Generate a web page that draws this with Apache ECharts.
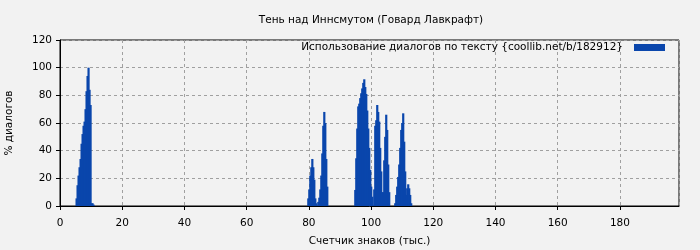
<!DOCTYPE html>
<html>
<head>
<meta charset="utf-8">
<script src="https://cdn.jsdelivr.net/npm/echarts@6/dist/echarts.min.js"></script>
<style>
html,body{margin:0;padding:0;background:#f2f2f2;}
#chart{width:700px;height:250px;}
</style>
</head>
<body>
<div id="chart"></div>
<script>
const titleText = 'Тень над Иннсмутом (Говард Лавкрафт)';
const seriesName = 'Использование диалогов по тексту {coollib.net/b/182912}';
const xAxisName = 'Счетчик знаков (тыс.)';
const yAxisName = '% диалогов';

// counter position, thousands of characters
const counterK = [
  5.33, 5.65, 5.97, 6.29, 6.62, 6.94, 7.26, 7.58, 7.90, 8.22, 8.54, 8.86, 9.18, 9.50, 9.83, 10.15, 10.47, 10.79,
  79.83, 80.15, 80.47, 80.80, 81.12, 81.44, 81.76, 82.08, 82.40,
  83.04, 83.37, 83.69, 84.01, 84.33, 84.65, 84.97, 85.29, 85.61, 85.93,
  94.93, 95.25, 95.57, 95.89, 96.21, 96.53, 96.85, 97.17, 97.50, 97.82, 98.14, 98.46, 98.78, 99.10, 99.42, 99.74, 100.06, 100.39,
  101.03, 101.35, 101.67, 101.99, 102.31, 102.63, 102.95, 103.28, 103.60, 103.92, 104.24, 104.56, 104.88, 105.20, 105.52, 105.84,
  107.77, 108.09, 108.41, 108.73, 109.06, 109.38, 109.70, 110.02, 110.34, 110.66, 110.98, 111.30, 111.62, 111.95, 112.27, 112.59, 112.91
];
// share of dialogue, percent
const dialogPct = [
  5.5, 15, 22, 28, 34, 45, 52, 58, 61, 70, 83, 94, 100, 84, 73, 2, 2, 1,
  5.5, 12, 22, 28, 34, 28, 19, 5.5, 2,
  3, 6, 12, 22, 38, 58, 68, 60, 34, 14,
  11.6, 34.5, 56, 72, 74, 78, 81.5, 85, 89, 91.6, 86, 81, 69, 56, 42, 26, 14, 6.7,
  12, 58, 62, 73, 68, 61, 42, 25, 10, 10, 33, 50, 66, 55, 30, 10,
  2, 8, 14, 21, 30, 42, 55, 60, 67, 46.5, 25, 8, 12.8, 15.7, 12.8, 8, 2
];

const barData = counterK.map((x, i) => [x, dialogPct[i]]);
const barColor = '#0a46ac';
const barPx = 2.2;

const chart = echarts.init(document.getElementById('chart'), null, {renderer: 'canvas'});
const font = 'DejaVu Sans';
const fs = 10.5;
chart.setOption({
  backgroundColor: '#f2f2f2',
  animation: false,
  textStyle: {fontFamily: font},
  title: {
    text: titleText,
    left: 366, top: 10, textAlign: 'center',
    textStyle: {fontFamily: font, fontSize: fs, fontWeight: 'normal', color: '#000'}
  },
  legend: {
    right: 30, top: 37,
    align: 'right',
    icon: 'rect', itemWidth: 31, itemHeight: 7, itemGap: 0,
    textStyle: {fontFamily: font, fontSize: fs, color: '#000', padding: [0, 6, 0, 0]},
    data: [{name: seriesName, itemStyle: {color: barColor}}]
  },
  grid: {
    left: 60, right: 21, top: 40, bottom: 44,
    containLabel: false, outerBoundsMode: 'none',
    show: true, borderColor: '#000', borderWidth: 1, backgroundColor: 'transparent'
  },
  xAxis: {
    type: 'value', min: 0, max: 199, interval: 20,
    name: xAxisName, nameLocation: 'middle', nameGap: 30,
    nameTextStyle: {fontFamily: font, fontSize: fs, color: '#000'},
    axisLine: {show: true, lineStyle: {color: '#000', width: 1}},
    axisTick: {show: true, inside: false, length: 4, lineStyle: {color: '#000'}},
    axisLabel: {fontFamily: font, fontSize: fs, color: '#000', margin: 12, showMaxLabel: false},
    splitLine: {show: true, lineStyle: {color: '#a0a0a0', type: [3, 3], width: 1}}
  },
  yAxis: {
    type: 'value', min: 0, max: 120, interval: 20,
    name: yAxisName, nameLocation: 'middle', nameGap: 45, nameRotate: 90,
    nameTextStyle: {fontFamily: font, fontSize: fs, color: '#000'},
    axisLine: {show: true, lineStyle: {color: '#000', width: 1}},
    axisTick: {show: true, inside: false, length: 4, lineStyle: {color: '#000'}},
    axisLabel: {fontFamily: font, fontSize: fs, color: '#000', margin: 8},
    splitLine: {show: true, lineStyle: {color: '#a0a0a0', type: [3, 3], width: 1}}
  },
  series: [{
    name: seriesName,
    type: 'custom',
    data: barData,
    encode: {x: 0, y: 1},
    itemStyle: {color: barColor},
    clip: true,
    renderItem: function (params, api) {
      const x = api.value(0);
      const top = api.coord([x, api.value(1)]);
      const base = api.coord([x, 0]);
      return {
        type: 'rect',
        shape: {x: top[0] - barPx / 2, y: top[1], width: barPx, height: base[1] - top[1]},
        style: {fill: barColor}
      };
    }
  }]
});
</script>
</body>
</html>
